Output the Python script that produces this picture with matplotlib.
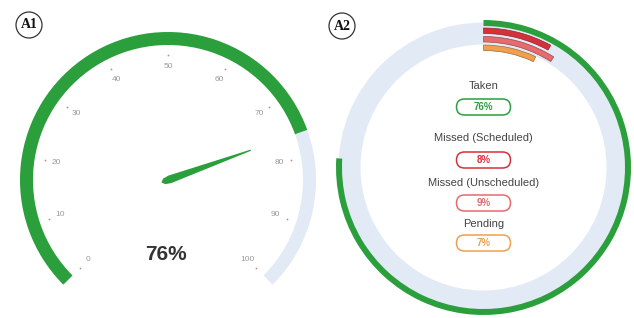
import numpy as np
import matplotlib
matplotlib.use("Agg")
import matplotlib.pyplot as plt
from matplotlib.patches import Wedge, Circle, FancyBboxPatch, Polygon

# data
gauge_value = 76
gauge_ticks = [0, 10, 20, 30, 40, 50, 60, 70, 80, 90, 100]

categories = ["Taken", "Missed (Scheduled)", "Missed (Unscheduled)", "Pending"]
percents = [76, 8, 9, 7]
colors = ["#2a9f3c", "#d6303b", "#e66a6e", "#eea04e"]
edge_colors = ["#1f7a2d", "#8c2a2e", "#9a4a4c", "#9c6a35"]

GREEN = "#2a9f3c"
LIGHT = "#e2eaf5"

W, H = 634, 318
fig = plt.figure(figsize=(W / 100, H / 100), dpi=100)
ax = fig.add_axes([0, 0, 1, 1])
ax.set_xlim(0, W)
ax.set_ylim(0, H)
ax.set_aspect("equal")
ax.axis("off")

plt.rcParams["font.family"] = ["Liberation Sans", "DejaVu Sans"]


def gauge_angle(v):
    # 0 at bottom-left, 100 at bottom-right, 270 deg sweep
    return 225 - v * 2.7


# ---------- A1: gauge ----------
cx, cy = 168, 138
r_out, thick = 148, 13
a_val = gauge_angle(gauge_value)
ax.add_patch(Wedge((cx, cy), r_out, gauge_angle(100), a_val, width=thick,
                   facecolor=LIGHT, edgecolor="none"))
ax.add_patch(Wedge((cx, cy), r_out, a_val, gauge_angle(0), width=thick,
                   facecolor=GREEN, edgecolor="none"))

for t in gauge_ticks:
    a = np.radians(gauge_angle(t))
    ax.text(cx + 113 * np.cos(a), cy + 113 * np.sin(a), str(t),
            ha="center", va="center", fontsize=6, color="#9a9a9a")
    ax.plot(cx + 125 * np.cos(a), cy + 125 * np.sin(a), marker="o",
            markersize=1.3, color="#b89090", markeredgewidth=0)

# needle
a = np.radians(a_val)
u = np.array([np.cos(a), np.sin(a)])
n = np.array([-np.sin(a), np.cos(a)])
c = np.array([cx, cy])
pts = [c - 7 * u, c - 4 * u + 3 * n, c + 2 * u + 4 * n, c + 88 * u + 0.6 * n,
       c + 88 * u - 0.6 * n, c + 2 * u - 4 * n, c - 4 * u - 3 * n]
ax.add_patch(Polygon(pts, closed=True, facecolor=GREEN, edgecolor="none"))

ax.text(cx - 2, 64, f"{gauge_value}%", ha="center", va="center",
        fontsize=15, fontweight="bold", color="#333333")

# ---------- A2: rings ----------
rx, ry = 483.5, 150.5
ax.add_patch(Wedge((rx, ry), 145, 0, 360, width=22, facecolor=LIGHT,
                   edgecolor="none"))
ring_radii = [147.5, 139.5, 131, 122.5]
ring_widths = [6, 5.5, 5.5, 5.5]
for i, (p, col, ec) in enumerate(zip(percents, colors, edge_colors)):
    sweep = p * 3.6
    ax.add_patch(Wedge((rx, ry), ring_radii[i], 90 - sweep, 90,
                       width=ring_widths[i], facecolor=col,
                       edgecolor=ec if i > 0 else "none", linewidth=0.5))

label_y = [232, 180, 135, 94]
box_y = [211, 158, 115, 75]
for name, p, col, ly, by in zip(categories, percents, colors, label_y, box_y):
    ax.text(rx, ly, name, ha="center", va="center", fontsize=8,
            color="#444444")
    ax.add_patch(FancyBboxPatch((rx - 27, by - 8), 54, 16,
                                boxstyle="round,pad=0,rounding_size=8",
                                facecolor="white", edgecolor=col,
                                linewidth=1.1))
    ax.text(rx, by, f"{p}%", ha="center", va="center", fontsize=7,
            fontweight="bold", color=col)

# panel labels
for lbl, (px, py) in zip(["A1", "A2"], [(29, 293), (342, 292)]):
    ax.add_patch(Circle((px, py), 13, facecolor="white", edgecolor="#333333",
                        linewidth=0.9))
    ax.text(px, py, lbl, ha="center", va="center", fontsize=10,
            fontweight="bold", family="Liberation Serif", color="#111111")

fig.savefig("out.png", dpi=100)
